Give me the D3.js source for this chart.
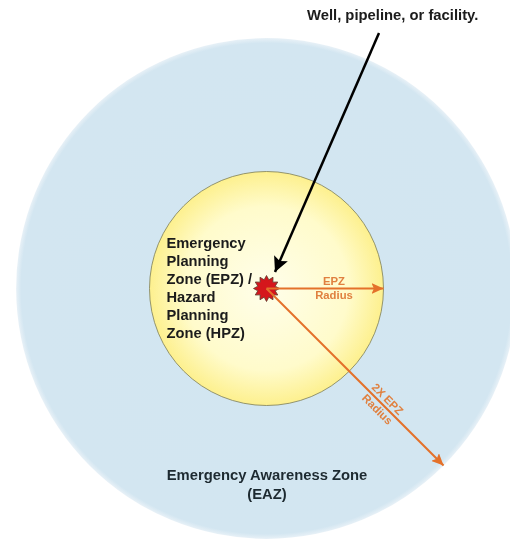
<!DOCTYPE html>
<html>
<head>
<meta charset="utf-8">
<script src="https://cdnjs.cloudflare.com/ajax/libs/d3/7.8.5/d3.min.js"></script>
<style>
  html, body { margin: 0; padding: 0; background: #fff; }
  svg { display: block; }
  text { font-family: "Liberation Sans", Arial, sans-serif; font-weight: bold; }
</style>
</head>
<body>
<div id="chart"></div>
<script>
// Zone radii in units of one EPZ radius
const zoneNames = ['Emergency Awareness Zone', 'Emergency Planning Zone'];
const zoneRadii = [2.14, 1];

// Radius arrows: length (EPZ units) and direction (degrees clockwise from east)
const arrowNames = ['EPZ', '2X EPZ'];
const arrowLengths = [1, 2.14];
const arrowAngles = [0, 45];

const epzLines = ['Emergency', 'Planning', 'Zone (EPZ) /', 'Hazard', 'Planning', 'Zone (HPZ)'];
const eazLines = ['Emergency Awareness Zone', '(EAZ)'];
const sourceLabel = 'Well, pipeline, or facility.';

// Burst outline: outer and inner radius in px, number of points
const burstRadii = [13, 9];
const burstPoints = 12;

const width = 510;
const height = 540;
const cx = 266.5;
const cy = 288.5;

const r = d3.scaleLinear().domain([0, 1]).range([0, 117]);

const svg = d3.select('#chart')
    .append('svg')
    .attr('width', width)
    .attr('height', height);

const defs = svg.append('defs');

const yellow = defs.append('radialGradient').attr('id', 'epzFill');
yellow.append('stop').attr('offset', '0%').attr('stop-color', '#fffeea');
yellow.append('stop').attr('offset', '70%').attr('stop-color', '#fffbcb');
yellow.append('stop').attr('offset', '100%').attr('stop-color', '#fdf08e');

const blue = defs.append('radialGradient').attr('id', 'eazFill');
blue.append('stop').attr('offset', '0%').attr('stop-color', '#d2e6f1');
blue.append('stop').attr('offset', '98%').attr('stop-color', '#d3e6f1');
blue.append('stop').attr('offset', '100%').attr('stop-color', '#e8f1f7');

defs.append('filter').attr('id', 'soft')
    .append('feGaussianBlur').attr('stdDeviation', 0.4);

function arrowMarker(id, color, w, h) {
    defs.append('marker')
        .attr('id', id)
        .attr('viewBox', `0 0 ${w} ${h}`)
        .attr('refX', w)
        .attr('refY', h / 2)
        .attr('markerUnits', 'userSpaceOnUse')
        .attr('markerWidth', w)
        .attr('markerHeight', h)
        .attr('orient', 'auto')
        .append('path')
        .attr('d', `M0,0L${w},${h / 2}L0,${h}L${w * 0.2},${h / 2}Z`)
        .attr('fill', color);
}
arrowMarker('headOrange', '#e4712b', 12, 11);
arrowMarker('headBlack', '#000', 15, 15);

const g = svg.append('g').attr('filter', 'url(#soft)');

// Zones, largest first
g.selectAll('circle.zone')
    .data(zoneRadii)
    .enter()
    .append('circle')
    .attr('class', 'zone')
    .attr('cx', cx)
    .attr('cy', cy)
    .attr('r', d => r(d))
    .attr('fill', (d, i) => i === 0 ? 'url(#eazFill)' : 'url(#epzFill)')
    .attr('stroke', (d, i) => i === 0 ? 'none' : '#7d7d55')
    .attr('stroke-width', 0.8)
    .append('title')
    .text((d, i) => zoneNames[i]);

// Radius arrows
const arrows = arrowLengths.map((len, i) => {
    const a = arrowAngles[i] * Math.PI / 180;
    return {
        name: arrowNames[i],
        x: cx + r(len) * Math.cos(a),
        y: cy + r(len) * Math.sin(a),
        angle: arrowAngles[i],
        len
    };
});

// Burst at the source
const burst = d3.lineRadial()
    .angle(d => d[0])
    .radius(d => d[1])
    .curve(d3.curveLinearClosed);

const burstData = d3.range(burstPoints * 2).map(i => [
    i * Math.PI / burstPoints,
    burstRadii[i % 2]
]);

g.append('path')
    .attr('transform', `translate(${cx},${cy})`)
    .attr('d', burst(burstData))
    .attr('fill', '#d5161f')
    .attr('stroke', '#5d3b2c')
    .attr('stroke-width', 0.8);

g.selectAll('line.radius')
    .data(arrows)
    .enter()
    .append('line')
    .attr('class', 'radius')
    .attr('x1', cx)
    .attr('y1', cy)
    .attr('x2', d => d.x)
    .attr('y2', d => d.y)
    .attr('stroke', '#e4712b')
    .attr('stroke-width', 2)
    .attr('marker-end', 'url(#headOrange)');

// Arrow from the label down to the source
g.append('line')
    .attr('x1', 379)
    .attr('y1', 33)
    .attr('x2', 275)
    .attr('y2', 272)
    .attr('stroke', '#000')
    .attr('stroke-width', 2.5)
    .attr('marker-end', 'url(#headBlack)');

// Labels
g.append('text')
    .attr('x', 307)
    .attr('y', 20)
    .attr('font-size', 14.8)
    .attr('fill', '#1a1a1a')
    .text(sourceLabel);

g.selectAll('text.epz')
    .data(epzLines)
    .enter()
    .append('text')
    .attr('class', 'epz')
    .attr('x', 166.5)
    .attr('y', (d, i) => 248 + i * 18)
    .attr('font-size', 14.7)
    .attr('fill', '#1a1a1a')
    .text(d => d);

g.selectAll('text.eaz')
    .data(eazLines)
    .enter()
    .append('text')
    .attr('class', 'eaz')
    .attr('x', 267)
    .attr('y', (d, i) => 480 + i * 19)
    .attr('text-anchor', 'middle')
    .attr('font-size', 14.8)
    .attr('fill', '#1f2a30')
    .text(d => d);

g.selectAll('text.epzRadius')
    .data(arrowNames[0].split(' ').concat('Radius'))
    .enter()
    .append('text')
    .attr('x', 334)
    .attr('y', (d, i) => i === 0 ? 285 : 298.5)
    .attr('text-anchor', 'middle')
    .attr('font-size', 11.3)
    .attr('fill', '#e0803f')
    .text(d => d);

const diag = g.append('g')
    .attr('transform', `translate(${cx + r(1.4) * Math.cos(Math.PI / 4)},${cy + r(1.4) * Math.sin(Math.PI / 4)}) rotate(45)`);
diag.append('text')
    .attr('y', -3.5)
    .attr('text-anchor', 'middle')
    .attr('font-size', 11.3)
    .attr('fill', '#e0803f')
    .text(arrowNames[1]);
diag.append('text')
    .attr('y', 11)
    .attr('text-anchor', 'middle')
    .attr('font-size', 11.3)
    .attr('fill', '#e0803f')
    .text('Radius');
</script>
</body>
</html>
